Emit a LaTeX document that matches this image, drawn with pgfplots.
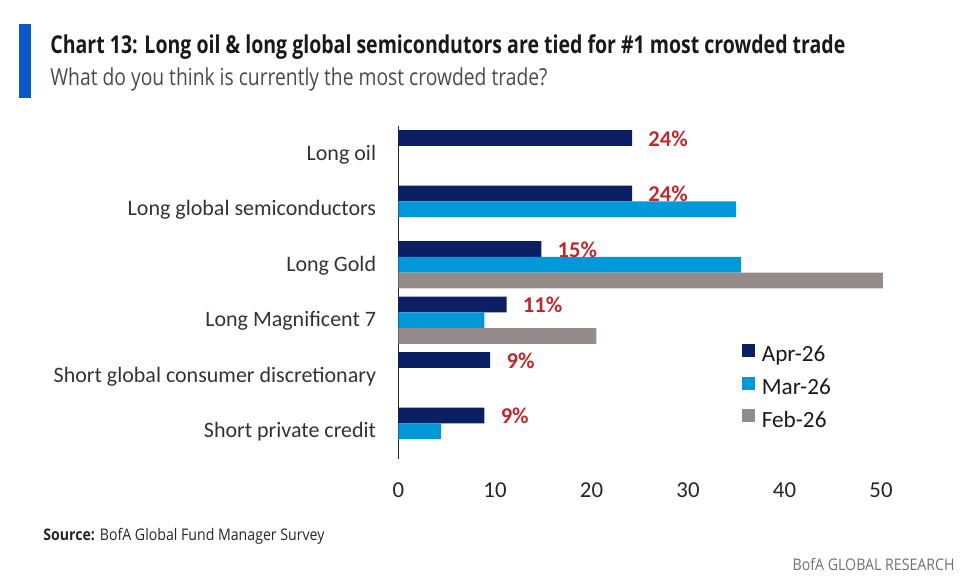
\documentclass[border=0pt]{standalone}
\usepackage{pgfplots}
\pgfplotsset{compat=1.18}
\usepackage{fontspec}
\usepackage{graphicx}
\setmainfont{Carlito}
\newfontfamily\osans{Open Sans}
\definecolor{aprc}{HTML}{0B1F65}
\definecolor{marc}{HTML}{0098D8}
\definecolor{febc}{HTML}{958B8B}
\definecolor{labred}{HTML}{BC2A2E}
\definecolor{bofablue}{HTML}{0B56C8}
\definecolor{txtgray}{HTML}{333333}
\definecolor{subgray}{HTML}{4A4A4A}
\definecolor{footgray}{HTML}{707070}
\begin{document}
\begin{tikzpicture}
\begin{scope}[x=0.5pt,y=-0.5pt]
\useasboundingbox (0,0) rectangle (960,581);
\fill[bofablue] (19.3,24.3) rectangle (31,98.3);
\node[anchor=base west, inner sep=0pt, text=black!90] at (50,53.3)
  {\resizebox{397.5pt}{\height}{\osans\bfseries\fontsize{12.3}{14}\selectfont Chart 13: Long oil \& long global semicondutors are tied for \#1 most crowded trade}};
\node[anchor=base west, inner sep=0pt, text=subgray] at (50,85.7)
  {\resizebox{248.5pt}{\height}{\osans\fontsize{11.7}{14}\selectfont What do you think is currently the most crowded trade?}};
\node[anchor=base west, inner sep=0pt, text=black!85] at (43,541)
  {\resizebox{140.5pt}{\height}{\osans\fontsize{8}{10}\selectfont\textbf{Source:} BofA Global Fund Manager Survey}};
\node[anchor=base east, inner sep=0pt, text=footgray] at (955,571)
  {\resizebox{81pt}{\height}{\osans\fontsize{8}{10}\selectfont BofA GLOBAL RESEARCH}};
\end{scope}
\begin{axis}[
  at={(199.25pt,-229.5pt)}, anchor=south west,
  scale only axis, width=241.25pt, height=166.5pt,
  xmin=0, xmax=50, ymin=-0.5, ymax=5.5, y dir=reverse,
  xbar, bar width=7.85pt, bar shift=0pt, clip=false,
  axis x line*=bottom, axis y line*=left,
  x axis line style={draw=none},
  y axis line style={draw=black!85, line width=0.75pt, -},
  major tick length=0pt, tick style={draw=none},
  xtick={0,10,20,30,40,50},
  ytick={0,1,2,3,4,5},
  yticklabels={Long oil, Long global semiconductors, Long Gold, Long Magnificent 7, Short global consumer discretionary, Short private credit},
  /pgf/number format/assume math mode=true,
  yticklabel style={anchor=base east, inner sep=0pt, xshift=-11pt, yshift=-3.35pt, text=txtgray, font=\fontsize{11}{13}\selectfont},
  xticklabel style={anchor=base, inner sep=0pt, yshift=-19.5pt, text=black!85, font=\fontsize{11.4}{13}\selectfont},
  legend style={draw=none, fill=none, inner sep=0pt, outer sep=0pt,
    at={(0.712,0.346)}, anchor=north west, row sep=4.9pt, column sep=3.2pt,
    nodes={inner sep=0pt, text height=7.5pt, text depth=2.5pt, text=black!90},
    font=\fontsize{11.6}{13}\selectfont},
  legend cell align=left,
  legend image code/.code={\fill[#1,draw=none] (0pt,0pt) rectangle (6.7pt,6.5pt);},
]
\addplot[fill=aprc, draw=none, point meta=explicit symbolic,
  nodes near coords={\pgfplotspointmeta},
  every node near coord/.append style={anchor=base west, inner sep=0pt, xshift=8pt, yshift=-4pt, text=labred, font=\bfseries\fontsize{11.3}{13}\selectfont}]
  coordinates {(24.2,-0.283) [24\%] (24.2,0.717) [24\%] (14.8,1.717) [15\%] (11.2,2.717) [11\%] (9.5,3.717) [9\%] (8.9,4.717) [9\%]};
\addplot[fill=marc, draw=none]
  coordinates {(35.0,1) (35.5,2) (8.9,3) (4.4,5)};
\addplot[fill=febc, draw=none]
  coordinates {(50.2,2.283) (20.5,3.283)};
\legend{Apr-26, Mar-26, Feb-26}
\end{axis}
\end{tikzpicture}
\end{document}
